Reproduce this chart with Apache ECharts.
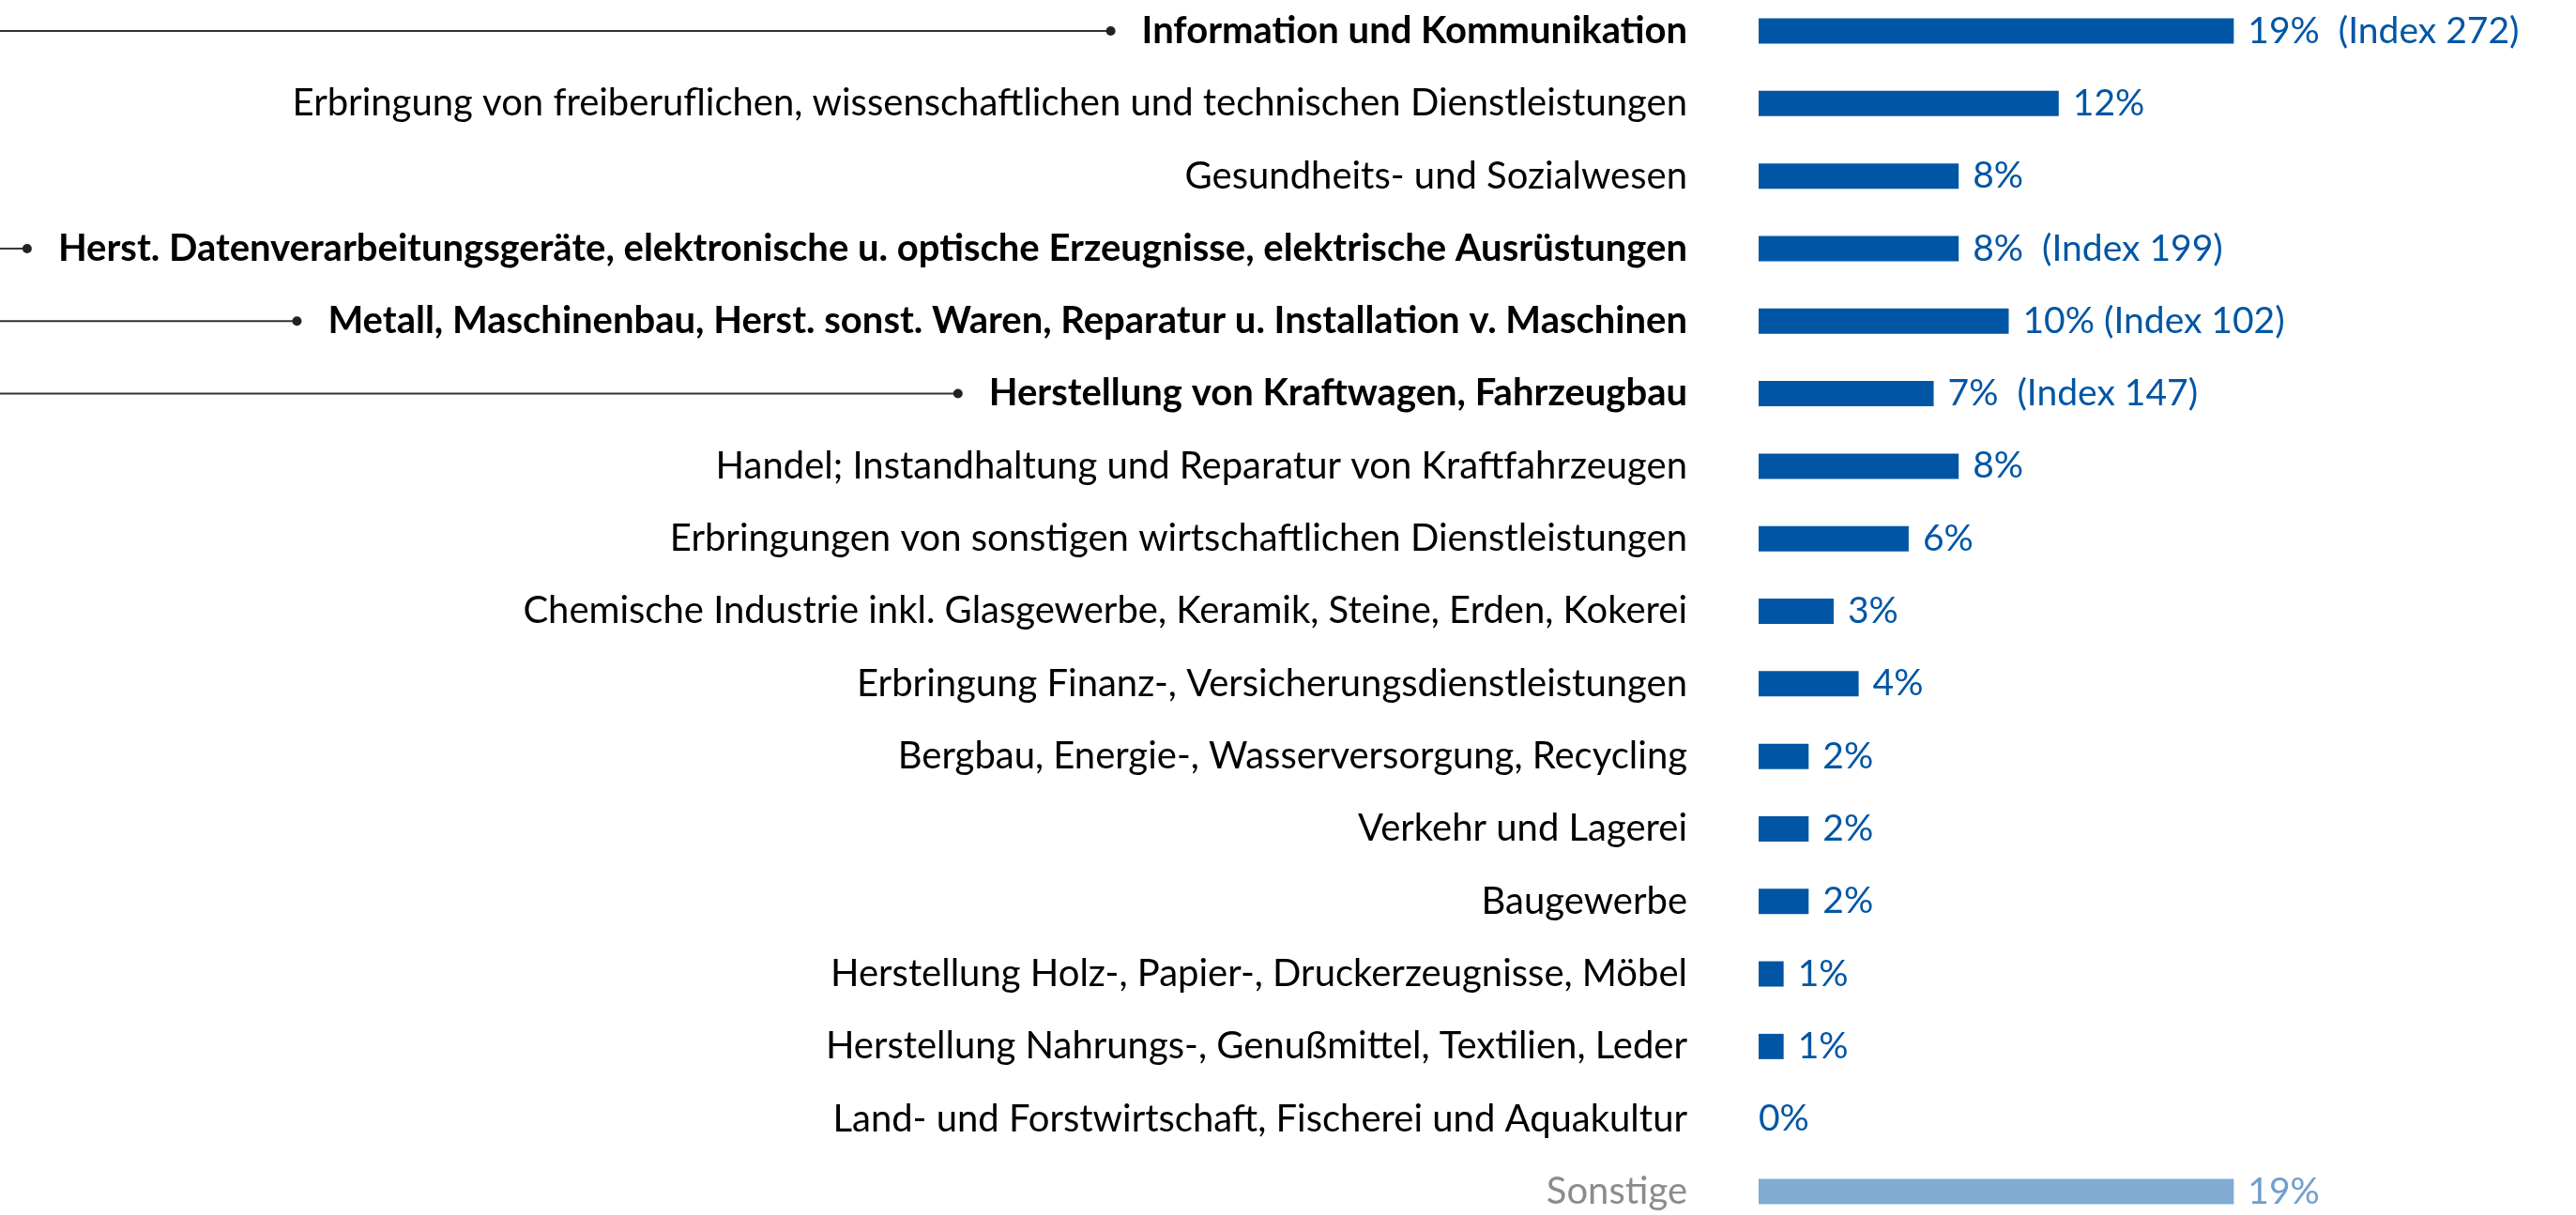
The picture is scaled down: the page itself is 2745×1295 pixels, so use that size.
<!DOCTYPE html>
<html lang="de">
<head>
    <meta charset="UTF-8">
    <title>Branchen</title>
    <style>html, body { margin: 0; padding: 0; background: #fff; }</style>
</head>
<body>
<div id="main" style="width: 2745px;height:1295px;"></div>

<script src="https://cdn.jsdelivr.net/npm/echarts@6/dist/echarts.min.js"></script>
<script>
    // Kategorien (von oben nach unten)
    var branchen = [
        'Information und Kommunikation',
        'Erbringung von freiberuflichen, wissenschaftlichen und technischen Dienstleistungen',
        'Gesundheits- und Sozialwesen',
        'Herst. Datenverarbeitungsgeräte, elektronische u. optische Erzeugnisse, elektrische Ausrüstungen',
        'Metall, Maschinenbau, Herst. sonst. Waren, Reparatur u. Installation v. Maschinen',
        'Herstellung von Kraftwagen, Fahrzeugbau',
        'Handel; Instandhaltung und Reparatur von Kraftfahrzeugen',
        'Erbringungen von sonstigen wirtschaftlichen Dienstleistungen',
        'Chemische Industrie inkl. Glasgewerbe, Keramik, Steine, Erden, Kokerei',
        'Erbringung Finanz-, Versicherungsdienstleistungen',
        'Bergbau, Energie-, Wasserversorgung, Recycling',
        'Verkehr und Lagerei',
        'Baugewerbe',
        'Herstellung Holz-, Papier-, Druckerzeugnisse, Möbel',
        'Herstellung Nahrungs-, Genußmittel, Textilien, Leder',
        'Land- und Forstwirtschaft, Fischerei und Aquakultur',
        'Sonstige'
    ];
    // Anteil in %
    var anteile = [19, 12, 8, 8, 10, 7, 8, 6, 3, 4, 2, 2, 2, 1, 1, 0, 19];
    // Index-Werte (nur hervorgehobene Branchen)
    var indexWerte = [272, null, null, 199, 102, 147, null, null, null, null, null, null, null, null, null, null, null];
    var hervorgehoben = [true, false, false, true, true, true, false, false, false, false, false, false, false, false, false, false, false];

    var FONT = 'Lato';
    var FS = 40;       // Kategorien
    var FS_WERT = 39;  // Werte
    var BLAU = '#0056a4';
    var HELLBLAU = '#80abd3';
    var LABEL_MARGIN = 76;

    var chart = echarts.init(document.getElementById('main'));

    var barData = anteile.map(function (v, i) {
        var sonst = branchen[i] === 'Sonstige';
        return {
            value: v,
            itemStyle: {color: sonst ? HELLBLAU : BLAU},
            label: {color: sonst ? '#6f9fcf' : BLAU, distance: v === 0 ? 0 : 15}
        };
    });

    chart.setOption({
        backgroundColor: '#fff',
        animation: false,
        grid: {
            left: 1874,
            top: 33,
            bottom: 25,
            width: 533
        },
        xAxis: {
            type: 'value',
            min: 0,
            max: 20,
            show: false
        },
        yAxis: {
            type: 'category',
            data: branchen,
            inverse: true,
            boundaryGap: false,
            axisLine: {show: false},
            axisTick: {show: false},
            splitLine: {show: false},
            axisLabel: {
                margin: LABEL_MARGIN,
                formatter: function (value, idx) {
                    if (hervorgehoben[idx]) return '{b|' + value + '}';
                    if (value === 'Sonstige') return '{g|' + value + '}';
                    return '{n|' + value + '}';
                },
                rich: {
                    n: {fontFamily: FONT, fontSize: FS, color: '#000'},
                    b: {fontFamily: FONT, fontSize: FS, color: '#000', fontWeight: 'bold'},
                    g: {fontFamily: FONT, fontSize: FS, color: '#8c8c8c'}
                }
            }
        },
        series: [{
            type: 'bar',
            barWidth: 27,
            data: barData,
            label: {
                show: true,
                position: 'right',
                fontFamily: FONT,
                fontSize: FS_WERT,
                formatter: function (p) {
                    var s = p.value + '%';
                    var idx = indexWerte[p.dataIndex];
                    if (idx) s += (p.value === 10 ? ' ' : '  ') + '(Index ' + idx + ')';
                    return s;
                }
            }
        }]
    });

    // Führungslinien links neben den fett gedruckten Branchen
    var ctx = document.createElement('canvas').getContext('2d');
    ctx.font = 'bold ' + FS + 'px ' + FONT;
    var labelRight = chart.convertToPixel({xAxisIndex: 0}, 0) - LABEL_MARGIN;
    var graphics = [];
    for (var i = 0; i < branchen.length; i++) {
        if (!hervorgehoben[i]) continue;
        var y = chart.convertToPixel({yAxisIndex: 0}, i);
        var endX = labelRight - ctx.measureText(branchen[i]).width - 33;
        graphics.push({
            type: 'line',
            shape: {x1: 0, y1: y, x2: endX, y2: y},
            style: {stroke: '#333', lineWidth: 2}
        });
        graphics.push({
            type: 'circle',
            shape: {cx: endX, cy: y, r: 5},
            style: {fill: '#222'}
        });
    }
    chart.setOption({graphic: graphics});
</script>
</body>
</html>
